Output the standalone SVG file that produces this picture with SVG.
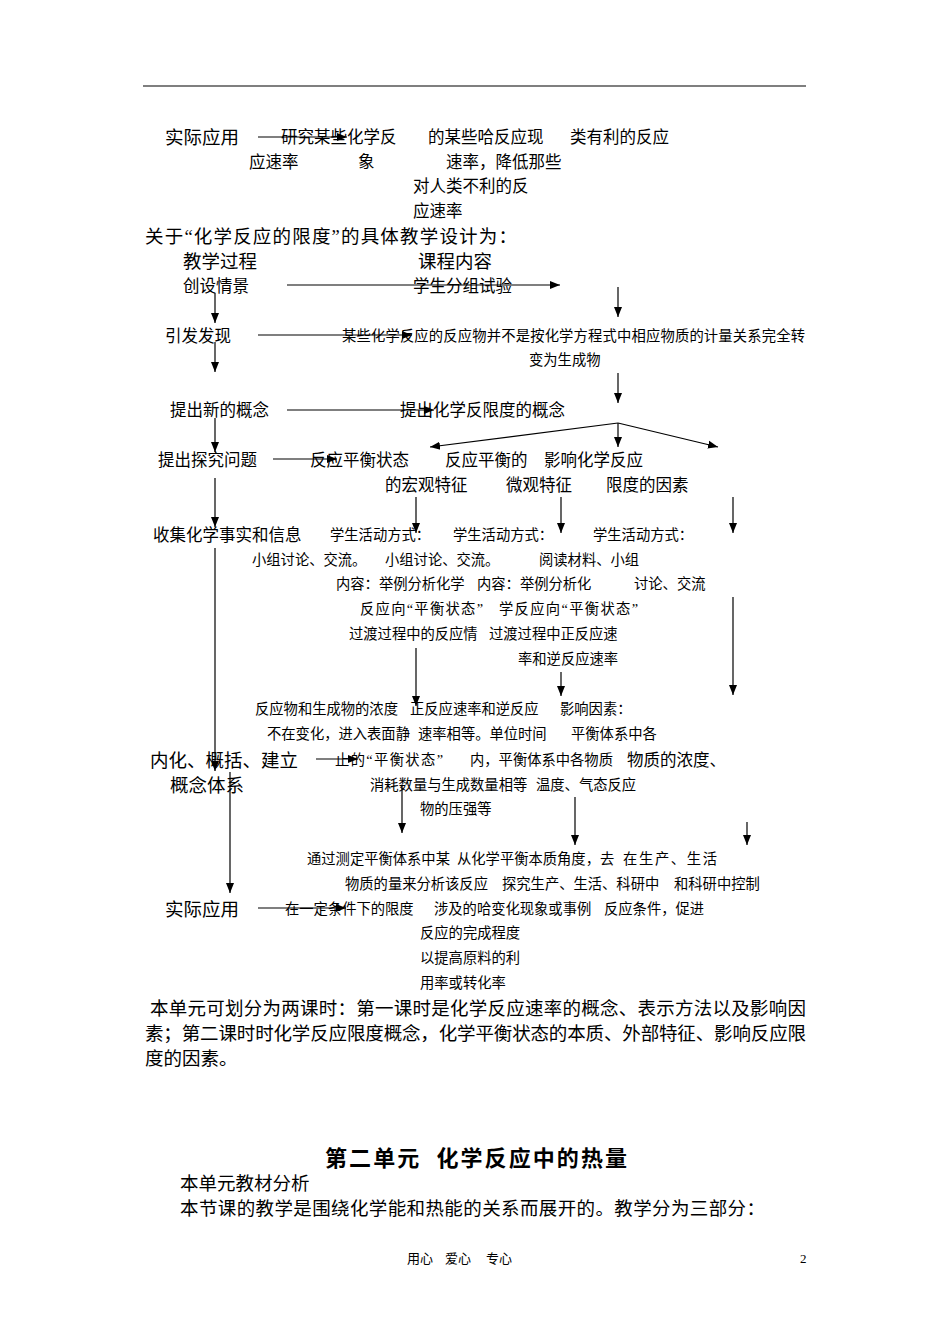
<svg xmlns="http://www.w3.org/2000/svg" width="950" height="1344" viewBox="0 0 950 1344">
<style>
text{font-family:"Liberation Serif","Noto Sans CJK SC",serif;fill:#000}
.l{font-size:18.5px}
.m{font-size:16.5px}
.s{font-size:14.3px}
.h{font-size:22px;font-weight:bold}
.f{font-size:13px}
.c line{stroke:#000;stroke-width:1.2;fill:none}
.c line.a{marker-end:url(#ah)}
</style>
<defs>
<marker id="ah" viewBox="0 0 10 10" refX="10" refY="5" markerWidth="10" markerHeight="10" markerUnits="userSpaceOnUse" orient="auto">
<path d="M0,1 L10,5 L0,9 Z" fill="#000"/>
</marker>
</defs>
<rect width="950" height="1344" fill="#fff"/>
<line x1="143" y1="86" x2="806" y2="86" stroke="#000" stroke-width="1.2"/>

<g id="top-apply">
<text class="l" x="165" y="144">实际应用</text>
<text class="m" x="281" y="143">研究某些化学反</text>
<text class="m" x="249" y="168">应速率</text>
<text class="m" x="428" y="143">的某些哈反应现</text>
<text class="m" x="358" y="168">象</text>
<text class="m" x="570" y="143">类有利的反应</text>
<text class="m" x="446" y="168">速率，降低那些</text>
<text class="m" x="413" y="192">对人类不利的反</text>
<text class="m" x="413" y="217">应速率</text>
</g>

<g id="intro">
<text class="l" x="145" y="243" textLength="372">关于“化学反应的限度”的具体教学设计为：</text>
<text class="l" x="183" y="268">教学过程</text>
<text class="l" x="418" y="268">课程内容</text>
</g>

<g id="n-create">
<text class="m" x="183" y="292">创设情景</text>
<text class="m" x="413" y="292">学生分组试验</text>
</g>

<g id="n-discover">
<text class="m" x="165" y="342">引发发现</text>
<text class="s" x="342" y="341" textLength="463">某些化学反应的反应物并不是按化学方程式中相应物质的计量关系完全转</text>
<text class="s" x="529" y="365">变为生成物</text>
</g>

<g id="n-concept">
<text class="m" x="170" y="416">提出新的概念</text>
<text class="m" x="400" y="416">提出化学反限度的概念</text>
</g>

<g id="n-question">
<text class="m" x="158" y="466">提出探究问题</text>
<text class="m" x="310" y="466">反应平衡状态</text>
<text class="m" x="385" y="491">的宏观特征</text>
<text class="m" x="445" y="466">反应平衡的</text>
<text class="m" x="506" y="491">微观特征</text>
<text class="m" x="544" y="466">影响化学反应</text>
<text class="m" x="606" y="491">限度的因素</text>
</g>

<g id="n-collect">
<text class="m" x="153" y="541">收集化学事实和信息</text>
<text class="s" x="330" y="540">学生活动方式：</text>
<text class="s" x="252" y="565">小组讨论、交流。</text>
<text class="s" x="336" y="589">内容：举例分析化学</text>
<text class="s" x="360" y="614" textLength="123">反应向“平衡状态”</text>
<text class="s" x="349" y="639">过渡过程中的反应情</text>
<text class="s" x="453" y="540">学生活动方式：</text>
<text class="s" x="385" y="565">小组讨论、交流。</text>
<text class="s" x="477" y="589">内容：举例分析化</text>
<text class="s" x="499" y="614" textLength="139">学反应向“平衡状态”</text>
<text class="s" x="489" y="639">过渡过程中正反应速</text>
<text class="s" x="518" y="664">率和逆反应速率</text>
<text class="s" x="593" y="540">学生活动方式：</text>
<text class="s" x="539" y="565">阅读材料、小组</text>
<text class="s" x="634" y="589">讨论、交流</text>
</g>

<g id="n-internalize">
<text class="l" x="150" y="767">内化、概括、建立</text>
<text class="l" x="170" y="792">概念体系</text>
<text class="s" x="255" y="714">反应物和生成物的浓度</text>
<text class="s" x="267" y="739">不在变化，进入表面静</text>
<text class="s" x="335" y="765" textLength="108">止的“平衡状态”</text>
<text class="s" x="410" y="714">正反应速率和逆反应</text>
<text class="s" x="418" y="739">速率相等。单位时间</text>
<text class="s" x="470" y="765">内，平衡体系中各物质</text>
<text class="s" x="370" y="790">消耗数量与生成数量相等</text>
<text class="s" x="560" y="714">影响因素：</text>
<text class="s" x="571" y="739">平衡体系中各</text>
<text class="m" x="627" y="766">物质的浓度、</text>
<text class="s" x="536" y="790">温度、气态反应</text>
<text class="s" x="420" y="814">物的压强等</text>
</g>

<g id="n-apply">
<text class="l" x="165" y="916">实际应用</text>
<text class="s" x="307" y="864">通过测定平衡体系中某</text>
<text class="s" x="345" y="889">物质的量来分析该反应</text>
<text class="s" x="285" y="914">在一定条件下的限度</text>
<text class="s" x="457" y="864">从化学平衡本质角度，去</text>
<text class="s" x="502" y="889">探究生产、生活、科研中</text>
<text class="s" x="434" y="914">涉及的哈变化现象或事例</text>
<text class="s" x="623" y="864" textLength="94">在生产、生活</text>
<text class="s" x="674" y="889">和科研中控制</text>
<text class="s" x="604" y="914">反应条件，促进</text>
<text class="s" x="420" y="938">反应的完成程度</text>
<text class="s" x="420" y="963">以提高原料的利</text>
<text class="s" x="420" y="988">用率或转化率</text>
</g>

<g id="summary">
<text class="l" x="150" y="1015" textLength="656">本单元可划分为两课时：第一课时是化学反应速率的概念、表示方法以及影响因</text>
<text class="l" x="145" y="1040" textLength="661">素；第二课时时化学反应限度概念，化学平衡状态的本质、外部特征、影响反应限</text>
<text class="l" x="145" y="1065">度的因素。</text>
</g>

<g id="unit2">
<text class="h" x="325" y="1166" textLength="302" xml:space="preserve">第二单元  化学反应中的热量</text>
<text class="l" x="180" y="1190">本单元教材分析</text>
<text class="l" x="180" y="1215" textLength="585">本节课的教学是围绕化学能和热能的关系而展开的。教学分为三部分：</text>
</g>

<g id="footer">
<text class="f" x="407" y="1263">用心</text>
<text class="f" x="445" y="1263">爱心</text>
<text class="f" x="486" y="1263">专心</text>
<text class="f" x="800" y="1263">2</text>
</g>

<g id="connectors" class="c">
<line class="a" x1="258" y1="137" x2="347" y2="137"/>
<line class="a" x1="287" y1="285" x2="560" y2="285"/>
<line class="a" x1="618" y1="287" x2="618" y2="317"/>
<line class="a" x1="215" y1="293" x2="215" y2="323"/>
<line class="a" x1="258" y1="335" x2="412" y2="335"/>
<line class="a" x1="215" y1="342" x2="215" y2="372"/>
<line class="a" x1="618" y1="373" x2="618" y2="403"/>
<line class="a" x1="287" y1="410" x2="434" y2="410"/>
<line class="a" x1="215" y1="418" x2="215" y2="452"/>
<line class="a" x1="618" y1="423" x2="430" y2="447"/>
<line class="a" x1="618" y1="423" x2="618" y2="447"/>
<line class="a" x1="618" y1="423" x2="718" y2="447"/>
<line class="a" x1="273" y1="459" x2="337" y2="459"/>
<line class="a" x1="215" y1="478" x2="215" y2="527"/>
<line class="a" x1="416" y1="497" x2="416" y2="533"/>
<line class="a" x1="561" y1="497" x2="561" y2="533"/>
<line class="a" x1="733" y1="497" x2="733" y2="533"/>
<line class="a" x1="215" y1="548" x2="215" y2="771"/>
<line class="a" x1="733" y1="597" x2="733" y2="695"/>
<line class="a" x1="416" y1="648" x2="416" y2="706"/>
<line class="a" x1="561" y1="672" x2="561" y2="696"/>
<line class="a" x1="316" y1="759" x2="358" y2="759"/>
<line class="a" x1="230" y1="772" x2="230" y2="893"/>
<line class="a" x1="402" y1="785" x2="402" y2="833"/>
<line class="a" x1="575" y1="797" x2="575" y2="845"/>
<line class="a" x1="747" y1="822" x2="747" y2="845"/>
<line class="a" x1="258" y1="908" x2="346" y2="908"/>
</g>
</svg>
